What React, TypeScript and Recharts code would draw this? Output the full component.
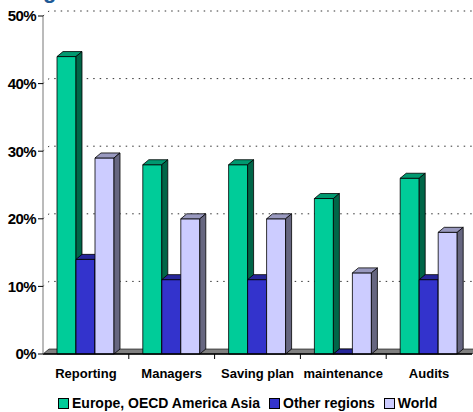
import { BarChart, Bar, XAxis, YAxis, CartesianGrid, Legend } from 'recharts';

const categories = ['Reporting', 'Managers', 'Saving plan', 'maintenance', 'Audits'];
const europe = [44, 28, 28, 23, 26];
const otherRegions = [14, 11, 11, 0, 11];
const world = [29, 20, 20, 12, 18];
const yTicks = [0, 10, 20, 30, 40, 50];

const data = categories.map((name, i) => ({
  name,
  europe: europe[i],
  other: otherRegions[i],
  world: world[i],
}));

const DX = 6;
const DY = 5;
const FONT = '"Liberation Sans", Arial, sans-serif';

// front / top / side shades for the fake 3D columns
const make3DBar = (front: string, top: string, side: string) => (props: any) => {
  const { x, y, width, height } = props;
  if (x == null || y == null) return <g />;
  const h = Math.max(0, height || 0);
  const w = width;
  return (
    <g stroke="#000" strokeWidth={0.8} strokeLinejoin="round">
      {h > 0 && <rect x={x} y={y} width={w} height={h} fill={front} />}
      <polygon
        points={`${x},${y} ${x + DX},${y - DY} ${x + w + DX},${y - DY} ${x + w},${y}`}
        fill={top}
      />
      <polygon
        points={`${x + w},${y} ${x + w + DX},${y - DY} ${x + w + DX},${y + h - DY} ${x + w},${y + h}`}
        fill={side}
      />
    </g>
  );
};

const gridLine = (p: any) => {
  const { x1, x2, y1, index } = p;
  if (index === 0) {
    return (
      <g key={`floor-${index}`}>
        <polygon
          points={`${x1},${y1} ${x1 + DX},${y1 - DY} ${x2 + DX},${y1 - DY} ${x2},${y1}`}
          fill="#808080"
          stroke="#000"
          strokeWidth={0.6}
        />
      </g>
    );
  }
  return (
    <g key={`grid-${index}`} stroke="#333" strokeWidth={1} strokeDasharray="1.5 5" fill="none">
      <polyline points={`${x1},${y1} ${x1 + DX},${y1 - DY} ${x2 + DX},${y1 - DY}`} />
    </g>
  );
};

const CategoryTick = (props: any) => {
  const { x, y, payload, index } = props;
  const half = payload?.offset || 43;
  return (
    <g>
      {index > 0 && <line x1={x - half} x2={x - half} y1={y} y2={y + 5} stroke="#000" />}
      <text x={x} y={y + 24} textAnchor="middle" fontSize={13} fontWeight="bold" fontFamily={FONT} fill="#000">
        {payload.value}
      </text>
    </g>
  );
};

const renderLegend = (props: any) => {
  const { payload } = props;
  return (
    <div style={{ display: 'flex', alignItems: 'center', paddingLeft: 58, paddingTop: 11, fontFamily: FONT, fontWeight: 'bold', fontSize: 14, color: '#000', lineHeight: '16px' }}>
      {(payload || []).map((p: any) => (
        <div key={p.value} style={{ display: 'flex', alignItems: 'center', marginRight: 9 }}>
          <span style={{ width: 9, height: 9, background: p.color, border: '1px solid #000', display: 'inline-block', marginRight: 3 }} />
          <span>{p.value}</span>
        </div>
      ))}
    </div>
  );
};

export default function App() {
  return (
    <div style={{ position: 'absolute', left: 0, top: 0, width: 473, height: 412, overflow: 'hidden', background: '#fff' }}>
      <div style={{ position: 'absolute', left: 43, top: -20, fontFamily: FONT, fontWeight: 'bold', fontSize: 22, lineHeight: '22px', color: '#1F5A96' }}>g</div>
      <BarChart
        width={473}
        height={412}
        data={data}
        margin={{ top: 16, right: 1, left: 0, bottom: 0 }}
        barCategoryGap={14}
        barGap={0}
      >
        <CartesianGrid vertical={false} horizontal={gridLine} />
        <XAxis
          dataKey="name"
          height={30}
          tickSize={0}
          tickMargin={0}
          tickLine={false}
          axisLine={{ stroke: '#000', strokeWidth: 1.5 }}
          tick={<CategoryTick />}
          interval={0}
        />
        <YAxis
          width={43}
          domain={[0, 50]}
          ticks={yTicks}
          tickFormatter={(v) => `${v}%`}
          axisLine={{ stroke: '#777' }}
          tickLine={{ stroke: '#000' }}
          tickSize={5}
          tickMargin={2}
          tick={{ fontSize: 15, fontWeight: 'bold', fill: '#000', fontFamily: FONT, letterSpacing: -0.6 }}
        />
        <Legend verticalAlign="bottom" height={28} content={renderLegend} />
        <Bar dataKey="europe" name="Europe, OECD America Asia" fill="#00CC99" isAnimationActive={false} shape={make3DBar('#00CC99', '#009970', '#006648')} />
        <Bar dataKey="other" name="Other regions" fill="#3333CC" isAnimationActive={false} shape={make3DBar('#3333CC', '#26269A', '#1A1A66')} />
        <Bar dataKey="world" name="World" fill="#CCCCFF" isAnimationActive={false} shape={make3DBar('#CCCCFF', '#9999BF', '#666680')} />
      </BarChart>
    </div>
  );
}
